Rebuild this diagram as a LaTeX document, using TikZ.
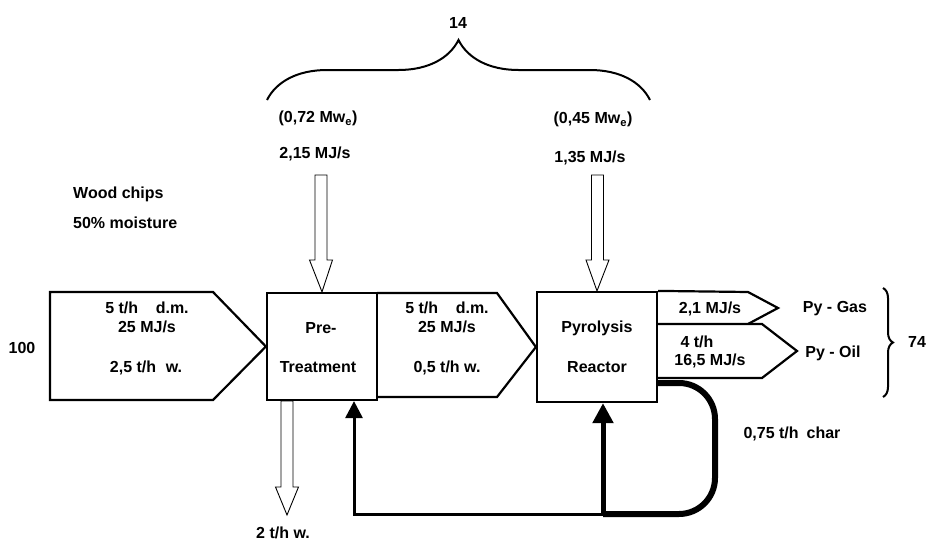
\documentclass[tikz,border=0pt]{standalone}
\usepackage{fontspec}
\setmainfont{Liberation Sans}
\usetikzlibrary{arrows.meta,positioning,calc,decorations.pathreplacing}
\tikzset{
  lbl/.style={font=\bfseries\fontsize{16}{19}\selectfont, inner sep=0pt,
              text height=11.5pt, text depth=0pt},
  unitbox/.style={rectangle, draw=black, line width=2.2pt},
  stream/.style={draw=black, line width=2.2pt, line join=miter},
  hollowarr/.style={draw=black, line width=0.9pt, fill=white},
  feedarr/.style={-{Triangle[length=17pt,width=17pt]}, line width=3pt, draw=black},
  reactarr/.style={-{Triangle[length=20pt,width=20pt]}, line width=5pt, draw=black},
  charline/.style={line width=6pt, draw=black, rounded corners=36pt},
  sumbrace/.style={decorate, decoration={brace, amplitude=#1}, line width=2pt},
}
\begin{document}
\begin{tikzpicture}[x=1pt, y=-1pt]
    \useasboundingbox (0,0) rectangle (927,541);
    \node[unitbox, minimum width=110pt, minimum height=107pt] (pre) at (322,346.5) {};
    \node[unitbox, minimum width=120pt, minimum height=110pt] (reac) at (597,347) {};
    % mass and energy streams
    \draw[stream] (50,292) -- (213,292) -- (pre.west) -- (213,400) -- (50,400) -- cycle;
    \draw[stream] (377,293) -- (497,293) -- (reac.west) -- (497,397) -- (377,397);
    \draw[stream] (reac.north east) -- (748,292) -- (778,308) -- (748,324);
    \draw[stream] (657,324) -- (762,324) -- (797,351) -- (762,378) -- (657,378);
    % electric power in, water out
    \draw[hollowarr] (315,175) -- (327,175) -- (327,260) -- (332.5,260) -- (pre.north)
                     -- (309.5,260) -- (315,260) -- cycle;
    \draw[hollowarr] (591.5,175) -- (603.5,175) -- (603.5,260) -- (609,260) -- (reac.north)
                     -- (586,260) -- (591.5,260) -- cycle;
    \draw[hollowarr] (281,401) -- (293,401) -- (293,487) -- (298.5,487) -- (287,515)
                     -- (275.5,487) -- (281,487) -- cycle;
    % char recycle
    \coordinate (junc) at (603,514);
    \coordinate (ret) at (354,514);
    \draw[charline] (657,383) -- (715,383) -- (715,514) -- (junc);
    \draw[reactarr] (junc) -- (junc |- reac.south);
    \draw[feedarr] (junc) -- (ret) -- (ret |- pre.south);
    \draw[sumbrace=60pt] (267,100) -- (650,100);
    \draw[sumbrace=10pt] (883,288) -- (883,397);
    \node[lbl] (sum) at (458,23) {14};
    \node[lbl] (elpre) at (318,117) {(0,72 Mw\textsubscript{e})};
    \node[lbl] (qpre) at (315,153) {2,15 MJ/s};
    \node[lbl] (elreac) at (593,118) {(0,45 Mw\textsubscript{e})};
    \node[lbl] (qreac) at (590,157) {1,35 MJ/s};
    \node[lbl, anchor=west] (feed) at (73,193) {Wood chips};
    \node[lbl, anchor=west] (moist) at (73,223) {50\% moisture};
    \node[lbl] (total) at (22,348) {100};
    \node[lbl] (dmin) at (147,308) {5 t/h\hspace{1.1em}d.m.};
    \node[lbl] (ein) at (147,327) {25 MJ/s};
    \node[lbl] (win) at (146,367) {2,5 t/h\hspace{0.6em}w.};
    \node[lbl] (prea) at (321,328) {Pre-};
    \node[lbl] (preb) at (318,367) {Treatment};
    \node[lbl] (dmout) at (447,308) {5 t/h\hspace{1.1em}d.m.};
    \node[lbl] (eout) at (447,327) {25 MJ/s};
    \node[lbl] (wout) at (447,367) {0,5 t/h w.};
    \node[lbl] (reaca) at (597,327) {Pyrolysis};
    \node[lbl] (reacb) at (597,367) {Reactor};
    \node[lbl] (egas) at (710,308) {2,1 MJ/s};
    \node[lbl] (moil) at (697,342) {4 t/h};
    \node[lbl] (eoil) at (710,360) {16,5 MJ/s};
    \node[lbl] (gas) at (835,307) {Py - Gas};
    \node[lbl] (oil) at (833,352) {Py - Oil};
    \node[lbl] (prod) at (917,342) {74};
    \node[lbl] (water) at (283,533) {2 t/h w.};
    \node[lbl] (char) at (792,433) {0,75 t/h\hspace{0.5em}char};
  \end{tikzpicture}
\end{document}
